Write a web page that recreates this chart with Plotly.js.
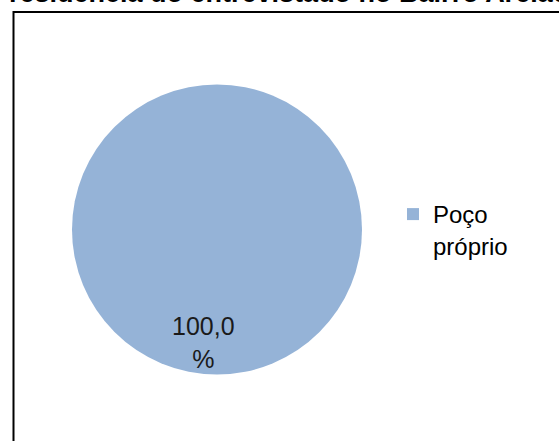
<!DOCTYPE html>
<html>
<head>
<meta charset="utf-8">
<script src="https://cdn.plot.ly/plotly-3.0.1.min.js"></script>
<style>html,body{margin:0;padding:0;background:#fff;}#chart{width:559px;height:441px;}</style>
</head>
<body>
<div id="chart"></div>
<script>
const titleText = "residência do entrevistado no Bairro Areião";
const categories = ["Poço<br>próprio"];
const values = [100];
const colors = ["#95B3D7"];

const total = values.reduce((a, b) => a + b, 0);
const pctLabel = (values[0] / total * 100).toFixed(1).replace('.', ',') + "<br>%";

const W = 559, H = 441;
const font = "Liberation Sans, Arial, sans-serif";

const data = [{
  type: 'pie',
  labels: categories,
  values: values,
  marker: {colors: colors, line: {width: 0}},
  textinfo: 'none',
  sort: false,
  hoverinfo: 'none',
  domain: {x: [72 / W, 362 / W], y: [(H - 375) / H, (H - 84) / H]}
}];

const layout = {
  width: W, height: H,
  margin: {l: 0, r: 0, t: 0, b: 0},
  paper_bgcolor: '#fff',
  showlegend: true,
  legend: {
    x: 393 / W, y: (H - 192) / H, xanchor: 'left', yanchor: 'top',
    valign: 'top',
    font: {family: font, size: 24, color: '#000'},
    itemwidth: 30, tracegroupgap: 0, bgcolor: 'rgba(0,0,0,0)'
  },
  annotations: [
    {text: '<b>' + titleText + '</b>', xref: 'paper', yref: 'paper',
     x: 7 / W, xanchor: 'left', y: 1 + 7 / H, yanchor: 'middle', showarrow: false,
     font: {family: font, size: 27, color: '#000'}},
    {text: pctLabel, xref: 'paper', yref: 'paper',
     x: 203 / W, y: (H - 342) / H, xanchor: 'center', yanchor: 'middle', showarrow: false,
     font: {family: font, size: 25, color: '#1a1a1a'}}
  ],
  shapes: [
    {type: 'rect', xref: 'paper', yref: 'paper',
     x0: 13.5 / W, x1: 1.05, y0: -0.05, y1: 1 - 12 / H,
     line: {color: '#000', width: 2}, fillcolor: 'rgba(0,0,0,0)'}
  ]
};

Plotly.newPlot('chart', data, layout, {displayModeBar: false, staticPlot: true});
</script>
</body>
</html>
